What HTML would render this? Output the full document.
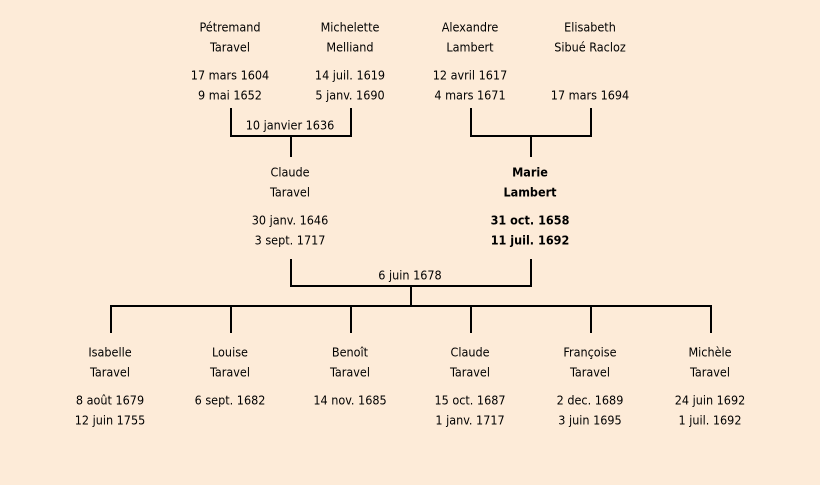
<!DOCTYPE html>
<html><head><meta charset="utf-8"><style>
html,body{margin:0;padding:0;background:#fdebd8;}
svg{display:block}
text{font-family:"DejaVu Sans Condensed","DejaVu Sans","Liberation Sans",sans-serif;font-size:12.5px;fill:#000;text-anchor:middle;dominant-baseline:middle}
.b{font-weight:bold}
</style></head><body>
<svg width="820" height="485" viewBox="0 0 820 485">
<rect width="820" height="485" fill="#fdebd8"/>
<g stroke="#000" stroke-width="2" fill="none">
<path d="M231 108V136H351V108M291 136V157"/>
<path d="M471 108V136H591V108M531 136V157"/>
<path d="M291 259V286H531V259M411 286V306"/>
<path d="M111 333V306H711V333M231 306V333M351 306V333M471 306V333M591 306V333"/>
</g>
<g transform="translate(0,1)">
<text x="230" y="27">Pétremand</text><text x="230" y="47">Taravel</text>
<text x="230" y="75">17 mars 1604</text><text x="230" y="95">9 mai 1652</text>
<text x="350" y="27">Michelette</text><text x="350" y="47">Melliand</text>
<text x="350" y="75">14 juil. 1619</text><text x="350" y="95">5 janv. 1690</text>
<text x="470" y="27">Alexandre</text><text x="470" y="47">Lambert</text>
<text x="470" y="75">12 avril 1617</text><text x="470" y="95">4 mars 1671</text>
<text x="590" y="27">Elisabeth</text><text x="590" y="47">Sibué Racloz</text>
<text x="590" y="95">17 mars 1694</text>
<text x="290" y="125">10 janvier 1636</text>
<text x="290" y="172">Claude</text><text x="290" y="192">Taravel</text>
<text x="290" y="220">30 janv. 1646</text><text x="290" y="240">3 sept. 1717</text>
<text class="b" x="530" y="172">Marie</text><text class="b" x="530" y="192">Lambert</text>
<text class="b" x="530" y="220">31 oct. 1658</text><text class="b" x="530" y="240">11 juil. 1692</text>
<text x="410" y="275">6 juin 1678</text>
<text x="110" y="352">Isabelle</text><text x="110" y="372">Taravel</text>
<text x="110" y="400">8 août 1679</text><text x="110" y="420">12 juin 1755</text>
<text x="230" y="352">Louise</text><text x="230" y="372">Taravel</text>
<text x="230" y="400">6 sept. 1682</text>
<text x="350" y="352">Benoît</text><text x="350" y="372">Taravel</text>
<text x="350" y="400">14 nov. 1685</text>
<text x="470" y="352">Claude</text><text x="470" y="372">Taravel</text>
<text x="470" y="400">15 oct. 1687</text><text x="470" y="420">1 janv. 1717</text>
<text x="590" y="352">Françoise</text><text x="590" y="372">Taravel</text>
<text x="590" y="400">2 dec. 1689</text><text x="590" y="420">3 juin 1695</text>
<text x="710" y="352">Michèle</text><text x="710" y="372">Taravel</text>
<text x="710" y="400">24 juin 1692</text><text x="710" y="420">1 juil. 1692</text>
</g>
</svg>
</body></html>
